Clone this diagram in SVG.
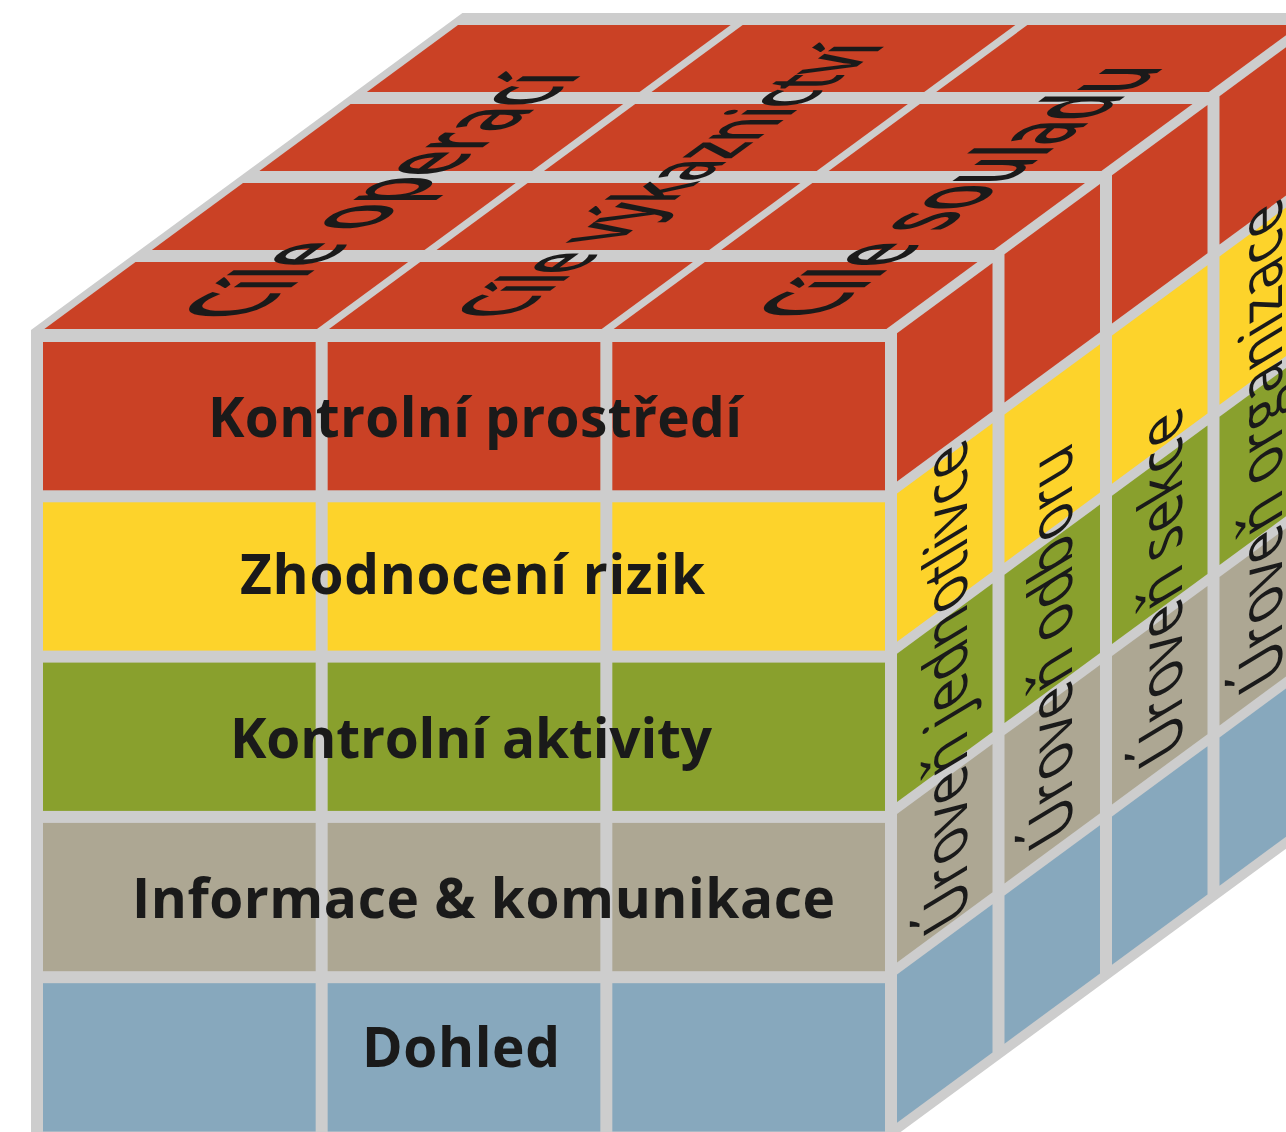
<svg xmlns="http://www.w3.org/2000/svg" width="1286" height="1132" viewBox="0 0 1286 1132">
  <style>
    .frame{fill:#cdcdcd}
    .c1{fill:#ca4125}
    .c2{fill:#fdd32b}
    .c3{fill:#89a02d}
    .c4{fill:#ada793}
    .c5{fill:#87a8bd}
    .front{font-family:"Open Sans","Noto Sans",sans-serif;font-weight:700;font-size:55px;fill:#1a1a1a}
    .top{font-family:"Open Sans","Noto Sans",sans-serif;font-weight:600;fill:#1a1a1a}
    .side{font-family:"Open Sans","Noto Sans",sans-serif;font-weight:500;font-size:55px;fill:#1a1a1a}
  </style>
  <rect width="1286" height="1132" fill="#ffffff"/>

  <!-- grey cube body: gaps between all cells -->
  <polygon id="cube-frame" class="frame" points="31,330 462.4,13 1330,13 1330,816.5 885,1143.5 31,1143.5"/>

  <!-- top face: three objective columns, four depth cells each -->
  <g id="objective-operaci">
    <polygon class="c1" points="44.36,329 317.03,329 408.2,262 135.53,262"/>
    <polygon class="c1" points="151.86,250 424.53,250 515.7,183 243.03,183"/>
    <polygon class="c1" points="259.36,171 532.03,171 623.2,104 350.53,104"/>
    <polygon class="c1" points="366.86,92 639.53,92 730.7,25 458.03,25"/>
    <text class="top" font-size="76" transform="matrix(0.807 -0.59 1.4 0 248 319)" textLength="418" lengthAdjust="spacing">Cíle operací</text>
  </g>
  <g id="objective-vykaznictvi">
    <polygon class="c1" points="329.03,329 601.69,329 692.86,262 420.2,262"/>
    <polygon class="c1" points="436.53,250 709.19,250 800.36,183 527.7,183"/>
    <polygon class="c1" points="544.03,171 816.69,171 907.86,104 635.2,104"/>
    <polygon class="c1" points="651.53,92 924.19,92 1015.36,25 742.7,25"/>
    <text class="top" font-size="66" transform="matrix(0.807 -0.59 1.4 0 513 318)" textLength="465" lengthAdjust="spacing">Cíle výkaznictví</text>
  </g>
  <g id="objective-souladu">
    <polygon class="c1" points="613.69,329 886.36,329 977.53,262 704.86,262"/>
    <polygon class="c1" points="721.19,250 993.86,250 1085.03,183 812.36,183"/>
    <polygon class="c1" points="828.69,171 1101.36,171 1192.53,104 919.86,104"/>
    <polygon class="c1" points="936.19,92 1208.86,92 1300.03,25 1027.36,25"/>
    <text class="top" font-size="75" transform="matrix(0.807 -0.59 1.4 0 822 318)" textLength="428" lengthAdjust="spacing">Cíle souladu</text>
  </g>

  <!-- front face rows continued on the right face -->
  <g id="component-kontrolni-prostredi">
    <rect class="c1" x="43" y="342" width="272.67" height="148.3"/>
    <rect class="c1" x="327.67" y="342" width="272.67" height="148.3"/>
    <rect class="c1" x="612.33" y="342" width="272.67" height="148.3"/>
    <polygon class="c1" points="897,333.18 992.5,263 992.5,411.3 897,481.48"/>
    <polygon class="c1" points="1004.5,254.18 1100,184 1100,332.3 1004.5,402.48"/>
    <polygon class="c1" points="1112,175.18 1207.5,105 1207.5,253.3 1112,323.48"/>
    <polygon class="c1" points="1219.5,96.18 1315,26 1315,174.3 1219.5,244.48"/>
    <text class="front" x="208" y="437" textLength="534" lengthAdjust="spacing">Kontrolní prostředí</text>
  </g>
  <g id="component-zhodnoceni-rizik">
    <rect class="c2" x="43" y="502.3" width="272.67" height="148.3"/>
    <rect class="c2" x="327.67" y="502.3" width="272.67" height="148.3"/>
    <rect class="c2" x="612.33" y="502.3" width="272.67" height="148.3"/>
    <polygon class="c2" points="897,493.48 992.5,423.3 992.5,571.6 897,641.78"/>
    <polygon class="c2" points="1004.5,414.48 1100,344.3 1100,492.6 1004.5,562.78"/>
    <polygon class="c2" points="1112,335.48 1207.5,265.3 1207.5,413.6 1112,483.78"/>
    <polygon class="c2" points="1219.5,256.48 1315,186.3 1315,334.6 1219.5,404.78"/>
    <text class="front" x="240" y="594" textLength="465" lengthAdjust="spacing">Zhodnocení rizik</text>
  </g>
  <g id="component-kontrolni-aktivity">
    <rect class="c3" x="43" y="662.6" width="272.67" height="148.3"/>
    <rect class="c3" x="327.67" y="662.6" width="272.67" height="148.3"/>
    <rect class="c3" x="612.33" y="662.6" width="272.67" height="148.3"/>
    <polygon class="c3" points="897,653.78 992.5,583.6 992.5,731.9 897,802.08"/>
    <polygon class="c3" points="1004.5,574.78 1100,504.6 1100,652.9 1004.5,723.08"/>
    <polygon class="c3" points="1112,495.78 1207.5,425.6 1207.5,573.9 1112,644.08"/>
    <polygon class="c3" points="1219.5,416.78 1315,346.6 1315,494.9 1219.5,565.08"/>
    <text class="front" x="230" y="758" textLength="482" lengthAdjust="spacing">Kontrolní aktivity</text>
  </g>
  <g id="component-informace-komunikace">
    <rect class="c4" x="43" y="822.9" width="272.67" height="148.3"/>
    <rect class="c4" x="327.67" y="822.9" width="272.67" height="148.3"/>
    <rect class="c4" x="612.33" y="822.9" width="272.67" height="148.3"/>
    <polygon class="c4" points="897,814.08 992.5,743.9 992.5,892.2 897,962.38"/>
    <polygon class="c4" points="1004.5,735.08 1100,664.9 1100,813.2 1004.5,883.38"/>
    <polygon class="c4" points="1112,656.08 1207.5,585.9 1207.5,734.2 1112,804.38"/>
    <polygon class="c4" points="1219.5,577.08 1315,506.9 1315,655.2 1219.5,725.38"/>
    <text class="front" x="132" y="918" textLength="703" lengthAdjust="spacing">Informace &amp; komunikace</text>
  </g>
  <g id="component-dohled">
    <rect class="c5" x="43" y="983.2" width="272.67" height="148.3"/>
    <rect class="c5" x="327.67" y="983.2" width="272.67" height="148.3"/>
    <rect class="c5" x="612.33" y="983.2" width="272.67" height="148.3"/>
    <polygon class="c5" points="897,974.38 992.5,904.2 992.5,1052.5 897,1122.68"/>
    <polygon class="c5" points="1004.5,895.38 1100,825.2 1100,973.5 1004.5,1043.68"/>
    <polygon class="c5" points="1112,816.38 1207.5,746.2 1207.5,894.5 1112,964.68"/>
    <polygon class="c5" points="1219.5,737.38 1315,667.2 1315,815.5 1219.5,885.68"/>
    <text class="front" x="362" y="1067" textLength="198" lengthAdjust="spacing">Dohled</text>
  </g>

  <!-- right face: organisational levels, text running upwards on the face -->
  <g id="level-jednotlivce">
    <text class="side" transform="matrix(0 -1 1.1 -0.66 967 915)" textLength="480" lengthAdjust="spacing">Úroveň jednotlivce</text>
  </g>
  <g id="level-odboru">
    <text class="side" transform="matrix(0 -1 1.1 -0.66 1072 830)" textLength="391" lengthAdjust="spacing">Úroveň odboru</text>
  </g>
  <g id="level-sekce">
    <text class="side" transform="matrix(0 -1 1.1 -0.66 1182 748)" textLength="345" lengthAdjust="spacing">Úroveň sekce</text>
  </g>
  <g id="level-organizace">
    <text class="side" transform="matrix(0 -1 1.1 -0.66 1282 674)" textLength="480" lengthAdjust="spacing">Úroveň organizace</text>
  </g>
</svg>
